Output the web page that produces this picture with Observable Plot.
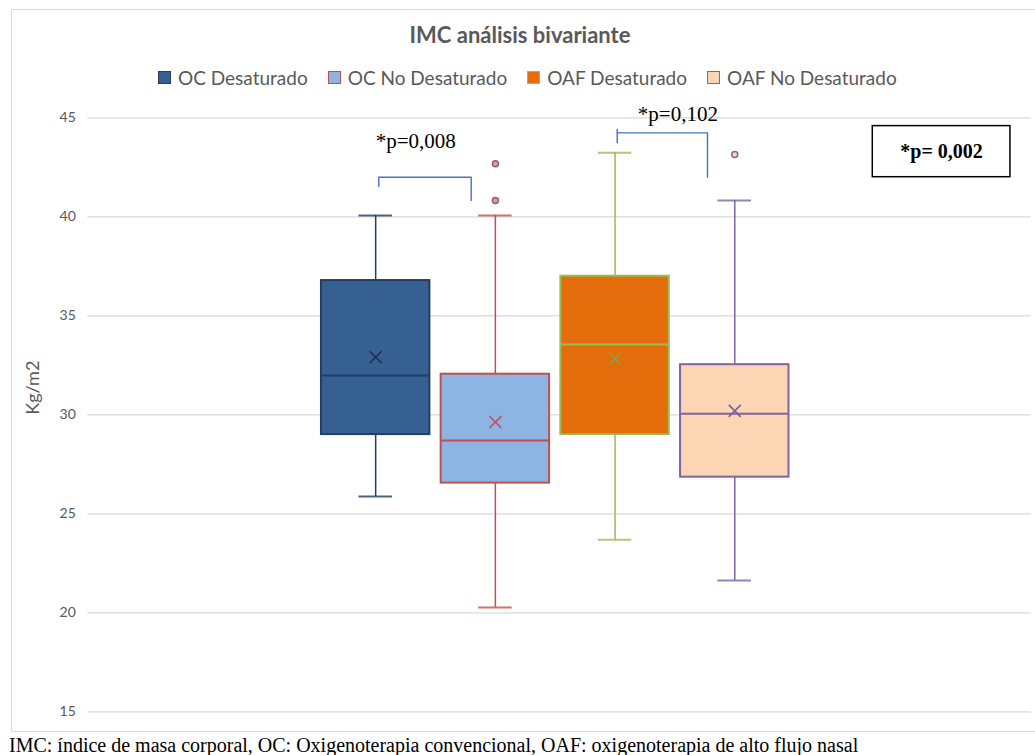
<!DOCTYPE html>
<html>
<head>
<meta charset="utf-8">
<script src="https://cdn.jsdelivr.net/npm/d3@7"></script>
<script src="https://cdn.jsdelivr.net/npm/@observablehq/plot@0.6"></script>
<style>
  html, body { margin: 0; padding: 0; background: #fff; width: 1035px; height: 755px; overflow: hidden; }
  #frame { position: absolute; left: 11px; top: 9px; width: 1040px; height: 723px; box-sizing: border-box; border: 1px solid #d9d9d9; }
  #title { position: absolute; left: 0; top: 21px; width: 1040px; text-align: center; font-family: Lato, "Open Sans", sans-serif; font-weight: bold; font-size: 22px; color: #595959; }
  #legend { position: absolute; left: 158px; top: 66px; display: flex; align-items: center; font-family: Lato, "Open Sans", sans-serif; font-size: 19px; color: #595959; white-space: nowrap; }
  #legend .item { display: flex; align-items: center; margin-right: 20px; }
  #legend .sw { width: 11px; height: 11px; border: 1.5px solid; margin-right: 7px; }
  #chart { position: absolute; left: 0; top: 100px; }
  #caption { position: absolute; left: 9px; top: 735px; font-family: "Liberation Serif", "Times New Roman", serif; font-size: 20px; color: #000; white-space: nowrap; line-height: 20px; }
</style>
</head>
<body>
<div id="frame"></div>
<div id="title">IMC análisis bivariante</div>
<div id="legend"></div>
<div id="chart"></div>
<div id="caption">IMC: índice de masa corporal, OC: Oxigenoterapia convencional, OAF: oxigenoterapia de alto flujo nasal</div>
<script>
// ---- data ----
const series = ["OC Desaturado", "OC No Desaturado", "OAF Desaturado", "OAF No Desaturado"];
const whiskerLow  = [25.87, 20.27, 23.69, 21.63];
const q1          = [29.0, 26.55, 29.0, 26.85];
const median      = [31.98, 28.7, 33.55, 30.05];
const q3          = [36.78, 32.05, 37.0, 32.53];
const whiskerHigh = [40.07, 40.07, 43.23, 40.82];
const mean        = [32.91, 29.63, 32.83, 30.2];
const outlierSeries = ["OC No Desaturado", "OC No Desaturado", "OAF No Desaturado"];
const outlierValues = [40.82, 42.68, 43.15];
const yTicks = [15, 20, 25, 30, 35, 40, 45];

// annotations (in data units: x = series position, y = Kg/m2)
const bracket1X = [1.026, 1.026, 1.798, 1.798];
const bracket1Y = [41.53, 42.0, 42.0, 40.82];
const bracket2X = [3.018, 3.772, 3.772];
const bracket2Y = [44.24, 44.24, 42.0];
const bracket2TickX = [3.018, 3.018];
const bracket2TickY = [44.41, 43.74];
const pLabels = ["*p=0,008", "*p=0,102"];
const pLabelX = [1.0, 3.19];
const pLabelY = [43.45, 44.86];
const pBoxX = [5.153, 6.303];
const pBoxY = [42.0, 44.58];
const pBoxLabel = "*p= 0,002";

// ---- styles ----
const fills   = ["#376092", "#8eb4e3", "#e46c0a", "#fcd5b5"];
const strokes = ["#233d63", "#c0504d", "#9bbb59", "#8064a2"];
const meanColors = ["#1f3050", "#b85a5c", "#8aa04a", "#7a629c"];

const rows = series.map((s, i) => ({
  series: s, pos: i + 1,
  low: whiskerLow[i], q1: q1[i], median: median[i], q3: q3[i], high: whiskerHigh[i], mean: mean[i],
  fill: fills[i], stroke: strokes[i], meanColor: meanColors[i]
}));
const outRows = outlierValues.map((v, i) => {
  const k = series.indexOf(outlierSeries[i]);
  return {pos: k + 1, value: v, fill: fills[k], stroke: strokes[k]};
});

const hw = 0.453, capHw = 0.14;
const b1 = bracket1X.map((x, i) => ({x, y: bracket1Y[i]}));
const b2 = bracket2X.map((x, i) => ({x, y: bracket2Y[i]}));
const b2t = bracket2TickX.map((x, i) => ({x, y: bracket2TickY[i]}));
const labs = pLabels.map((t, i) => ({t, x: pLabelX[i], y: pLabelY[i]}));

const plot = Plot.plot({
  width: 1035,
  height: 640,
  marginTop: 17.3,
  marginBottom: 28.7,
  marginLeft: 87.3,
  marginRight: 4,
  style: {background: "none", fontFamily: "Lato, 'Open Sans', sans-serif", fontSize: "14px", color: "#595959"},
  x: {type: "linear", domain: [-1.405, 6.479], axis: null},
  y: {domain: [15, 45], ticks: yTicks, tickSize: 0, tickPadding: 12, label: null},
  marks: [
    Plot.ruleY(yTicks, {stroke: "#d9d9d9", strokeWidth: 1.3}),
    Plot.ruleX(rows, {x: "pos", y1: "low", y2: "q1", stroke: "stroke", strokeWidth: 1.5}),
    Plot.ruleX(rows, {x: "pos", y1: "q3", y2: "high", stroke: "stroke", strokeWidth: 1.5}),
    Plot.ruleY(rows, {y: "low", x1: d => d.pos - capHw, x2: d => d.pos + capHw, stroke: "stroke", strokeWidth: 2, strokeOpacity: 0.8}),
    Plot.ruleY(rows, {y: "high", x1: d => d.pos - capHw, x2: d => d.pos + capHw, stroke: "stroke", strokeWidth: 2, strokeOpacity: 0.8}),
    Plot.rect(rows, {x1: d => d.pos - hw, x2: d => d.pos + hw, y1: "q1", y2: "q3", fill: "fill", stroke: "stroke", strokeWidth: 2, inset: 0}),
    Plot.ruleY(rows, {y: "median", x1: d => d.pos - hw, x2: d => d.pos + hw, stroke: "stroke", strokeWidth: 2}),
    Plot.dot(rows, {x: "pos", y: "mean", symbol: "times", r: 5.5, stroke: "meanColor", strokeWidth: 1.6}),
    Plot.dot(outRows, {x: "pos", y: "value", r: 3, fill: "fill", stroke: "stroke", strokeWidth: 1.5}),
    Plot.line(b1, {x: "x", y: "y", stroke: "#4472c4", strokeWidth: 1.4}),
    Plot.line(b2, {x: "x", y: "y", stroke: "#4472c4", strokeWidth: 1.4}),
    Plot.line(b2t, {x: "x", y: "y", stroke: "#4472c4", strokeWidth: 1.4}),
    Plot.text(labs, {x: "x", y: "y", text: "t", textAnchor: "start", lineAnchor: "bottom", fill: "#000", fontSize: 21, fontFamily: "'Liberation Serif', 'Times New Roman', serif"}),
    Plot.rect([0], {x1: () => pBoxX[0], x2: () => pBoxX[1], y1: () => pBoxY[0], y2: () => pBoxY[1], fill: "#fff", stroke: "#000", strokeWidth: 1.5}),
    Plot.text([pBoxLabel], {x: () => (pBoxX[0] + pBoxX[1]) / 2, y: () => (pBoxY[0] + pBoxY[1]) / 2, text: d => d, fill: "#000", fontSize: 20, fontWeight: "bold", fontFamily: "'Liberation Serif', 'Times New Roman', serif"}),
    Plot.text(["Kg/m2"], {frameAnchor: "left", dx: -55, rotate: -90, text: d => d, fill: "#595959", fontSize: 18})
  ]
});
document.getElementById("chart").appendChild(plot);

// legend
const leg = document.getElementById("legend");
series.forEach((s, i) => {
  const it = document.createElement("div");
  it.className = "item";
  const sw = document.createElement("div");
  sw.className = "sw";
  sw.style.background = fills[i];
  sw.style.borderColor = strokes[i];
  it.appendChild(sw);
  const t = document.createElement("span");
  t.textContent = s;
  it.appendChild(t);
  leg.appendChild(it);
});
</script>
</body>
</html>
